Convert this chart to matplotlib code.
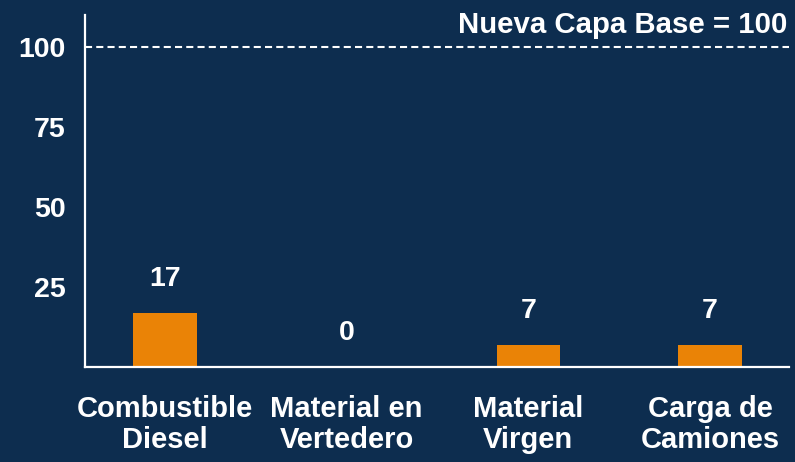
import matplotlib
matplotlib.use("Agg")
import matplotlib.pyplot as plt

categories = ["Combustible\nDiesel", "Material en\nVertedero", "Material\nVirgen", "Carga de\nCamiones"]
values = [17, 0, 7, 7]
yticks = [25, 50, 75, 100]
baseline_value = 100
baseline_label = "Nueva Capa Base = 100"

BG = "#0d2d4f"
BAR = "#ea8306"
FG = "white"

plt.rcParams["font.family"] = ["Liberation Sans", "DejaVu Sans"]
plt.rcParams["font.weight"] = "bold"

fig = plt.figure(figsize=(7.95, 4.62), dpi=100, facecolor=BG)
ax = fig.add_axes([0.107, 0.2056, 0.8855, 0.762])
ax.set_facecolor(BG)

x = list(range(len(categories)))
bars = ax.bar(x, values, width=0.35, color=BAR, zorder=2)

for xi, v in zip(x, values):
    ax.annotate(str(v), (xi, v), xytext=(0, 15), textcoords="offset points",
                ha="center", va="bottom", color=FG, fontsize=20.5, fontweight="bold")

ax.axhline(baseline_value, color=FG, lw=1.5, dashes=(3.4, 2), zorder=1)
ax.annotate(baseline_label, (1.0, baseline_value), xycoords=("axes fraction", "data"),
            xytext=(-1, 6), textcoords="offset points", ha="right", va="bottom",
            color=FG, fontsize=21.2, fontweight="bold")

ax.set_xlim(-0.44, 3.435)
ax.set_ylim(0, 110)
ax.set_xticks(x)
ax.set_xticklabels(categories, fontsize=21, fontweight="bold", color=FG,
                   linespacing=1.15)
ax.set_yticks(yticks)
ax.set_yticklabels([str(t) for t in yticks], fontsize=20.5, fontweight="bold", color=FG)
ax.tick_params(axis="x", length=0, pad=20)
ax.tick_params(axis="y", length=0, pad=14)

for side in ("top", "right"):
    ax.spines[side].set_visible(False)
for side in ("left", "bottom"):
    ax.spines[side].set_color(FG)
    ax.spines[side].set_linewidth(1.6)

fig.savefig("out.png", dpi=100, facecolor=BG)
